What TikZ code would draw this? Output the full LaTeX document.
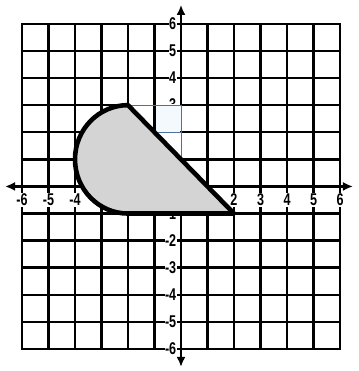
\documentclass[tikz,border=0pt]{standalone}
\usepackage{fontspec}
\setmainfont{Liberation Sans}
\usetikzlibrary{arrows.meta}
\definecolor{shapegray}{RGB}{212,212,212}
\definecolor{erase}{RGB}{80,110,160}
\definecolor{pale}{RGB}{244,249,254}
\begin{document}
\begin{tikzpicture}[x=26.5pt,y=27.1pt,
  gridline/.style={line width=2.5pt,line cap=rect},
  thinblue/.style={line width=0.7pt,draw=erase},
  axisline/.style={line width=2.8pt},
  tip/.style={-{Latex[length=10pt,width=9pt]}},
  lab/.style={font=\fontsize{17}{17}\selectfont\bfseries,xscale=0.74,fill=white,inner xsep=0.5pt,inner ysep=1pt},
  xlab/.style={lab,anchor=center},
  ylab/.style={lab,anchor=east},
  figure/.style={fill=shapegray,draw=black,line width=4.6pt,line join=round}]
\useasboundingbox (-6.83,-6.81) rectangle (6.68,6.88);
% pale erased cell
\fill[pale] (-1,2) rectangle (0,3);
% grid
\foreach \i in {-6,-5,-4,-3,-2,-1,1,2,3,4,5,6}
  \draw[gridline] (\i,-6) -- (\i,6);
\foreach \j in {-6,-5,-4,-3,-2,-1,1,4,5,6}
  \draw[gridline] (-6,\j) -- (6,\j);
\draw[gridline] (-6,3) -- (-2,3);
\draw[gridline] (0,3) -- (6,3);
\draw[gridline] (-6,2) -- (-1,2);
\draw[gridline] (0,2) -- (6,2);
% x labels
\node[xlab] (lxm6) at (-6,-0.5) {-6};
\node[xlab] (lxm5) at (-5,-0.5) {-5};
\node[xlab] (lxm4) at (-4,-0.5) {-4};
\node[xlab] (lx2) at (2,-0.5) {2};
\node[xlab] (lx3) at (3,-0.5) {3};
\node[xlab] (lx4) at (4,-0.5) {4};
\node[xlab] (lx5) at (5,-0.5) {5};
\node[xlab] (lx6) at (6,-0.5) {6};
% y labels
\node[ylab] (ly6) at (-0.16,6) {6};
\node[ylab] (ly5) at (-0.16,5) {5};
\node[ylab] (ly4) at (-0.16,4) {4};
\begin{scope}
  \clip (-1,3.05) rectangle (0,3.6);
  \node[ylab,fill=none] (ly3) at (-0.16,3) {3};
\end{scope}
\node[ylab] (lym1) at (-0.16,-1) {-1};
\node[ylab] (lym2) at (-0.16,-2) {-2};
\node[ylab] (lym3) at (-0.16,-3) {-3};
\node[ylab] (lym4) at (-0.16,-4) {-4};
\node[ylab] (lym5) at (-0.16,-5) {-5};
\node[ylab] (lym6) at (-0.16,-6) {-6};
% thin erased lines
\coordinate (ya) at (0,1);
\coordinate (yc) at (0,3);
\coordinate (ta) at (-2,3);
\coordinate (tb) at (-1,2);
\coordinate (tc) at (0,2);
\draw[thinblue] (ta) -- (yc);
\draw[thinblue] (tb) -- (tc);
\draw[thinblue] (ya) -- (yc);
% axes
\coordinate (xl) at (-6.64,0);
\coordinate (xr) at (6.49,0);
\coordinate (yt) at (0,6.70);
\coordinate (yb) at (0,-6.66);
\draw[axisline,{Latex[length=10pt,width=9pt]}-{Latex[length=10pt,width=9pt]}] (xl) -- (xr);
\draw[axisline,tip] (yc) -- (yt);
\draw[axisline,tip] (ya) -- (yb);
% figure
\coordinate (A) at (-2,3);
\coordinate (B) at (2,-1);
\draw[figure] (A) arc[start angle=90,end angle=270,radius=2] -- (B) -- cycle;
\end{tikzpicture}
\end{document}
